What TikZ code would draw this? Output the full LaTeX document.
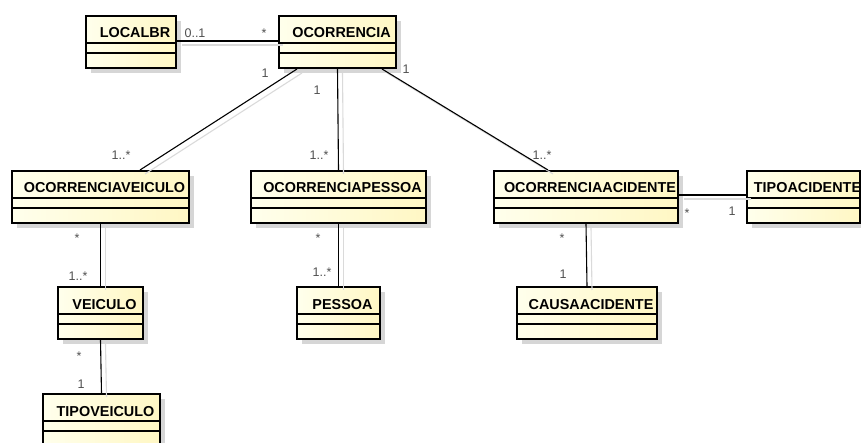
\documentclass[tikz,border=0pt]{standalone}
\usepackage{fontspec}
\setmainfont{Liberation Sans}
\usepackage{tikz}
\usetikzlibrary{shadows}
\definecolor{boxleft}{RGB}{255,255,236}
\definecolor{boxright}{RGB}{255,247,196}
\definecolor{shadowgray}{RGB}{214,214,214}
\definecolor{linegray}{RGB}{218,218,218}
\definecolor{labelgray}{RGB}{80,80,80}

\tikzset{
  classbox/.style={draw, line width=2pt, anchor=north west, inner sep=0pt,
    minimum height=52pt, left color=boxleft, right color=boxright,
    drop shadow={shadow xshift=5pt, shadow yshift=-5pt, fill=shadowgray, opacity=1},
    path picture={
      \node[classname] at ([xshift=4pt, yshift=-22pt]path picture bounding box.north) {#1};
      \draw[line width=1.2pt] ([yshift=-27pt]path picture bounding box.north west)
        -- ([yshift=-27pt]path picture bounding box.north east);
      \draw[line width=1.2pt] ([yshift=-37pt]path picture bounding box.north west)
        -- ([yshift=-37pt]path picture bounding box.north east);
    }},
  classname/.style={anchor=base, inner sep=0pt, font=\fontsize{14.4}{16}\selectfont\bfseries},
  assoc/.style={draw, line width=1.1pt,
    preaction={draw=linegray, line width=1.1pt, transform canvas={shift={(5pt,-4pt)}}}},
  mult/.style={anchor=base, inner sep=0pt, text=labelgray, font=\fontsize{12.5}{14}\selectfont}
}

\begin{document}
\begin{tikzpicture}[x=1pt, y=-1pt]
\useasboundingbox (0,0) rectangle (861,443);
\clip (0,0) rectangle (861,443);

% classes
\node[classbox=LOCALBR, minimum width=90pt] (localbr) at (85,15) {};
\node[classbox=OCORRENCIA, minimum width=117pt] (ocorr) at (278,15) {};
\node[classbox=OCORRENCIAVEICULO, minimum width=177pt] (ocveic) at (11,170) {};
\node[classbox=OCORRENCIAPESSOA, minimum width=175pt] (ocpess) at (250,170) {};
\node[classbox=OCORRENCIAACIDENTE, minimum width=184pt] (ocacid) at (493,170) {};
\node[classbox=TIPOACIDENTE, minimum width=113pt] (tipoacid) at (746,170) {};
\node[classbox=VEICULO, minimum width=85pt] (veic) at (57,286) {};
\node[classbox=PESSOA, minimum width=83pt] (pessoa) at (296,286) {};
\node[classbox=CAUSAACIDENTE, minimum width=140pt] (causa) at (516,286) {};
\node[classbox=TIPOVEICULO, minimum width=117pt] (tipoveic) at (42,393) {};

% associations
\draw[assoc] ([yshift=-26pt]localbr.north east) -- ([yshift=-26pt]ocorr.north west);
\draw[assoc] ([xshift=19pt]ocorr.south west) -- ([xshift=39.5pt]ocveic.north);
\draw[assoc] (ocorr.south) -- (ocpess.north);
\draw[assoc] ([xshift=-15pt]ocorr.south east) -- ([xshift=-38pt]ocacid.north);
\draw[assoc] ([yshift=-25pt]ocacid.north east) -- ([yshift=-25pt]tipoacid.north west);
\draw[assoc] (ocveic.south) -- (veic.north);
\draw[assoc] (veic.south) -- (tipoveic.north);
\draw[assoc] (ocpess.south) -- (pessoa.north);
\draw[assoc] (ocacid.south) -- (causa.north);

% multiplicities
\node[mult] (m-lo1) at (195,38) {0..1};
\node[mult] (m-lo2) at (264,38) {*};
\node[mult] (m-ov1) at (265,78) {1};
\node[mult] (m-ov2) at (121,160) {1..*};
\node[mult] (m-op1) at (317,95) {1};
\node[mult] (m-op2) at (319,160) {1..*};
\node[mult] (m-oa1) at (406,74) {1};
\node[mult] (m-oa2) at (542,160) {1..*};
\node[mult] (m-ta1) at (687,218) {*};
\node[mult] (m-ta2) at (732,216) {1};
\node[mult] (m-ve1) at (77,243) {*};
\node[mult] (m-ve2) at (78,280) {1..*};
\node[mult] (m-tv1) at (79,360) {*};
\node[mult] (m-tv2) at (81,388) {1};
\node[mult] (m-pe1) at (318,243) {*};
\node[mult] (m-pe2) at (322,277) {1..*};
\node[mult] (m-ca1) at (562,243) {*};
\node[mult] (m-ca2) at (563,279) {1};
\end{tikzpicture}
\end{document}
